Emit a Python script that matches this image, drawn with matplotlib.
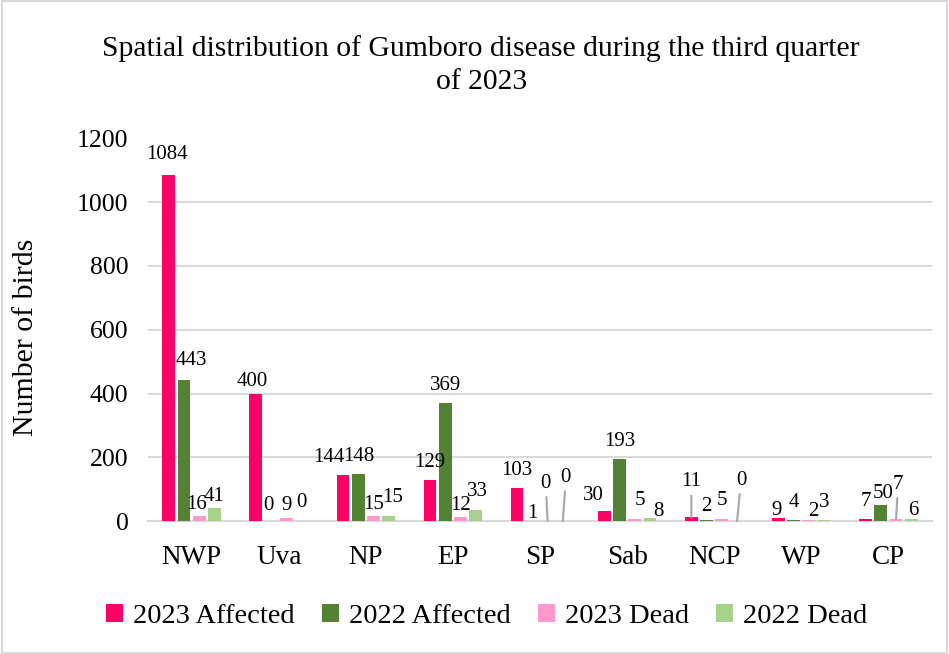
import numpy as np
import matplotlib.pyplot as plt
from matplotlib.patches import Rectangle

plt.rcParams['font.family'] = ['Liberation Serif', 'DejaVu Serif']

provinces = ['NWP', 'Uva', 'NP', 'EP', 'SP', 'Sab', 'NCP', 'WP', 'CP']
affected_2023 = [1084, 400, 144, 129, 103, 30, 11, 9, 7]
affected_2022 = [443, 0, 148, 369, 1, 193, 2, 4, 50]
dead_2023 = [16, 9, 15, 12, 0, 5, 5, 2, 7]
dead_2022 = [41, 0, 15, 33, 0, 8, 0, 3, 6]

series_names = ['2023 Affected', '2022 Affected', '2023 Dead', '2022 Dead']
series_vals = [affected_2023, affected_2022, dead_2023, dead_2022]
colors = ['#FF0066', '#548235', '#FF99CC', '#A9D18E']

# label nudges in pixels (dx, dy, leader line) -- mimic the hand placed excel labels
nudge = {
    (0, 0): (-2, 16, False), (0, 1): (-4, 8, False), (0, 2): (-14, 13, False),
    (0, 5): (-11, 11, False), (0, 6): (0, 31, True), (0, 7): (-2, 3, False),
    (1, 0): (7, 15, False), (1, 1): (-3, 11, False), (1, 2): (1, 13, False),
    (1, 4): (0, 3, False), (1, 6): (0, 9, False), (1, 8): (2, 7, False),
    (2, 0): (-3, 7, False), (2, 1): (0, 8, False), (2, 2): (0, 7, False),
    (2, 3): (0, 7, False), (2, 4): (-2, 33, True), (2, 5): (5, 14, False),
    (2, 6): (0, 14, False), (2, 7): (4, 4, False), (2, 8): (2, 30, True),
    (3, 0): (0, 7, False), (3, 1): (0, 14, False), (3, 2): (4, 14, False),
    (3, 3): (2, 14, False), (3, 4): (3, 39, True), (3, 5): (8, 2, False),
    (3, 6): (4, 36, True), (3, 7): (0, 13, False), (3, 8): (2, 4, False),
}

fig = plt.figure(figsize=(9.49, 6.54), dpi=100)
ax = fig.add_axes([148/949, 1-521/654, 784/949, 382.5/654])

x = np.arange(len(provinces))
step = 0.175
width = 0.146
for s in range(4):
    pos = x + (s - 1.5) * step
    ax.bar(pos, series_vals[s], width, color=colors[s], label=series_names[s], zorder=3)
    for c in range(len(provinces)):
        v = series_vals[s][c]
        dx, dy, lead = nudge.get((s, c), (0, 13, False))
        if lead:
            ax.annotate(str(v), xy=(pos[c], v), xytext=(dx, dy), textcoords='offset pixels',
                        ha='center', va='baseline', fontsize=15,
                        arrowprops=dict(arrowstyle='-', color='#A6A6A6', lw=1.5,
                                        shrinkA=1, shrinkB=0), zorder=4)
        else:
            ax.annotate(str(v), xy=(pos[c], v), xytext=(dx, dy), textcoords='offset pixels',
                        ha='center', va='baseline', fontsize=15, zorder=4)

ax.set_xlim(-0.5, len(provinces) - 0.5)
ax.set_ylim(0, 1200)
ax.set_yticks(np.arange(0, 1201, 200))
ax.set_xticks(x)
ax.set_xticklabels(provinces, fontsize=19.5)
ax.yaxis.grid(True, color='#D9D9D9', lw=1.5, zorder=0)
for sp in ['top', 'right', 'left']:
    ax.spines[sp].set_visible(False)
ax.spines['bottom'].set_color('#D9D9D9')
ax.spines['bottom'].set_linewidth(1.5)
ax.tick_params(axis='both', length=0)
ax.tick_params(axis='y', pad=14, labelsize=18.5)
ax.tick_params(axis='x', pad=17)

ax.set_ylabel('Number of birds', fontsize=21.5)
ax.yaxis.set_label_coords(-0.139, 0.48)

fig.text(0.507, 0.947, 'Spatial distribution of Gumboro disease during the third quarter\nof 2023',
         ha='center', va='top', fontsize=21.3, linespacing=1.35)

fig.legend(loc='center', bbox_to_anchor=(0.513, 0.058), ncol=4, frameon=False,
           fontsize=20.5, handlelength=0.6, handleheight=0.6, handletextpad=0.35,
           columnspacing=0.95)

fig.patches.append(Rectangle((0.002, 0.002), 0.996, 0.996, transform=fig.transFigure,
                             fill=False, edgecolor='#D9D9D9', lw=1.5))

fig.savefig('out.png', dpi=100)
